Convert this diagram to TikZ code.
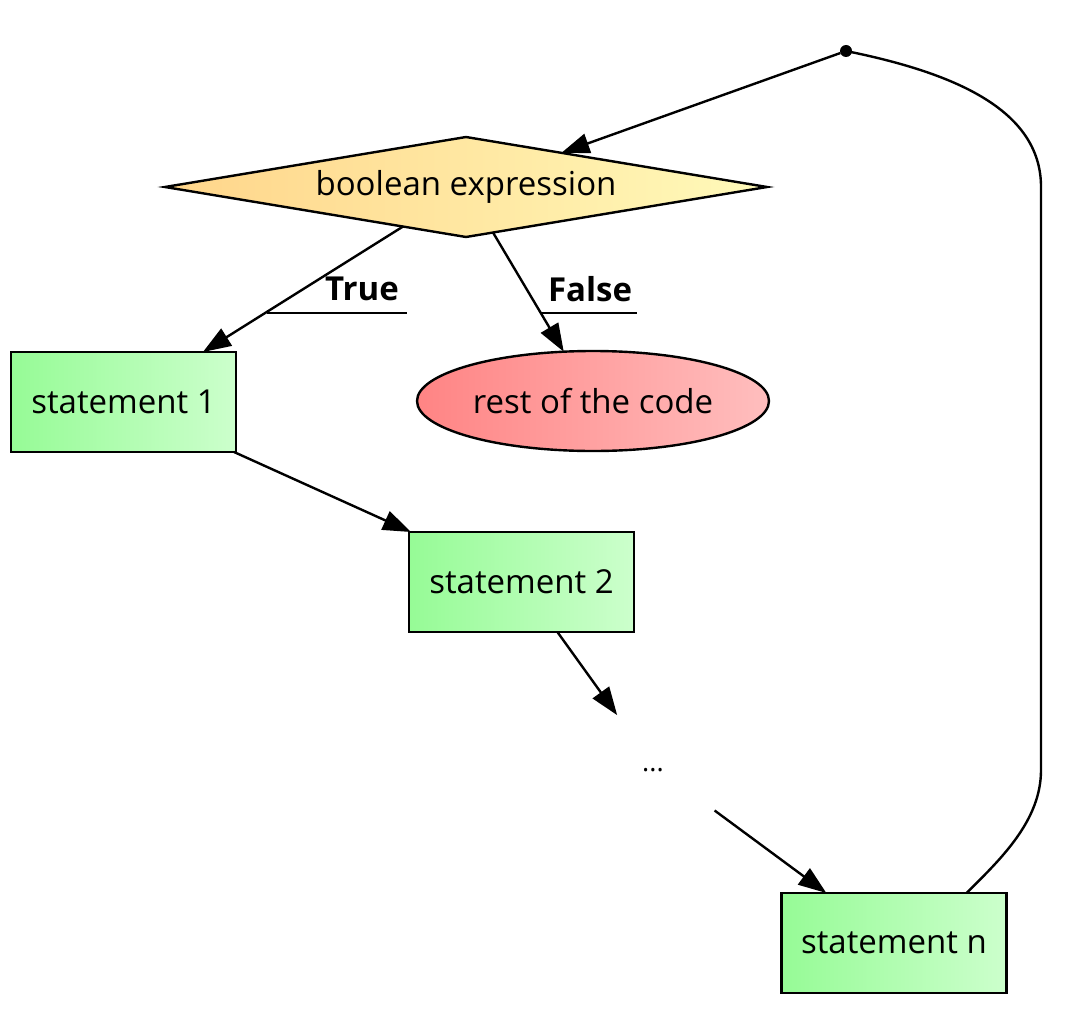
\documentclass[tikz,border=0pt]{standalone}
\usepackage{fontspec}
\setmainfont{Open Sans}
\usetikzlibrary{shapes.geometric,arrows.meta,calc}
\definecolor{ylL}{RGB}{255,213,138}
\definecolor{ylR}{RGB}{255,250,186}
\definecolor{grL}{RGB}{150,251,150}
\definecolor{grR}{RGB}{204,255,204}
\definecolor{rdL}{RGB}{255,132,132}
\definecolor{rdR}{RGB}{255,190,190}
\begin{document}
\begin{tikzpicture}[x=1pt,y=-1pt,
  every node/.style={font=\fontsize{33}{39}\selectfont, line width=2.4pt, outer sep=0pt, inner sep=0pt},
  stmt/.style={draw, rectangle, minimum width=225pt, minimum height=100pt, left color=grL, right color=grR},
  cond/.style={draw, diamond, aspect=6, minimum width=602pt, minimum height=100pt, left color=ylL, right color=ylR},
  term/.style={draw, ellipse, minimum width=352pt, minimum height=100pt, left color=rdL, right color=rdR},
  hidden/.style={ellipse, minimum width=254pt, minimum height=104pt},
  arr/.style={draw, line width=2.4pt, -{Triangle[length=28pt,width=20pt]}},
  wire/.style={draw, line width=2.4pt},
  lbl/.style={font=\fontsize{33}{39}\selectfont\bfseries}]
\useasboundingbox (0,0) rectangle (1067,1019);
\node[cond] (bool) at (466,187) {boolean expression};
\node[circle, fill, minimum size=12pt] (dot) at (846,51) {};
\node[stmt] (s1) at (123.5,402) {statement 1};
\node[term] (rest) at (593,401) {rest of the code};
\node[stmt] (s2) at (521.5,582) {statement 2};
\node[hidden] (dots) at (653,765) {\fontsize{27}{32}\selectfont\rule{0pt}{14pt}...};
\node[stmt] (sn) at (894,943) {statement n};
\node[lbl] (tl) at (362,289) {True};
\node[lbl] (fl) at (590,289) {False};
\coordinate (tu0) at (267,313);
\coordinate (tu1) at (407,313);
\coordinate (fu0) at (541,313);
\coordinate (fu1) at (637,313);
\draw[arr] (dot) -- (bool);
\draw[arr] (bool) -- (s1);
\draw[arr] (bool) -- (rest);
\draw[arr] (s1) -- (s2);
\draw[arr] (s2) -- (dots);
\draw[arr] (dots) -- (sn);
\draw[wire] (tu0) -- (tu1);
\draw[wire] (fu0) -- (fu1);
\coordinate (lp0) at ($(sn.north east)+(-40,0)$);
\coordinate (lp1) at (1041,770);
\coordinate (lp2) at (1041,187);
\draw[wire] (lp0) .. controls (1002,858) and (1041,820) .. (lp1) -- (lp2) .. controls (1041,108) and (950,72) .. (dot.center);
\end{tikzpicture}
\end{document}
